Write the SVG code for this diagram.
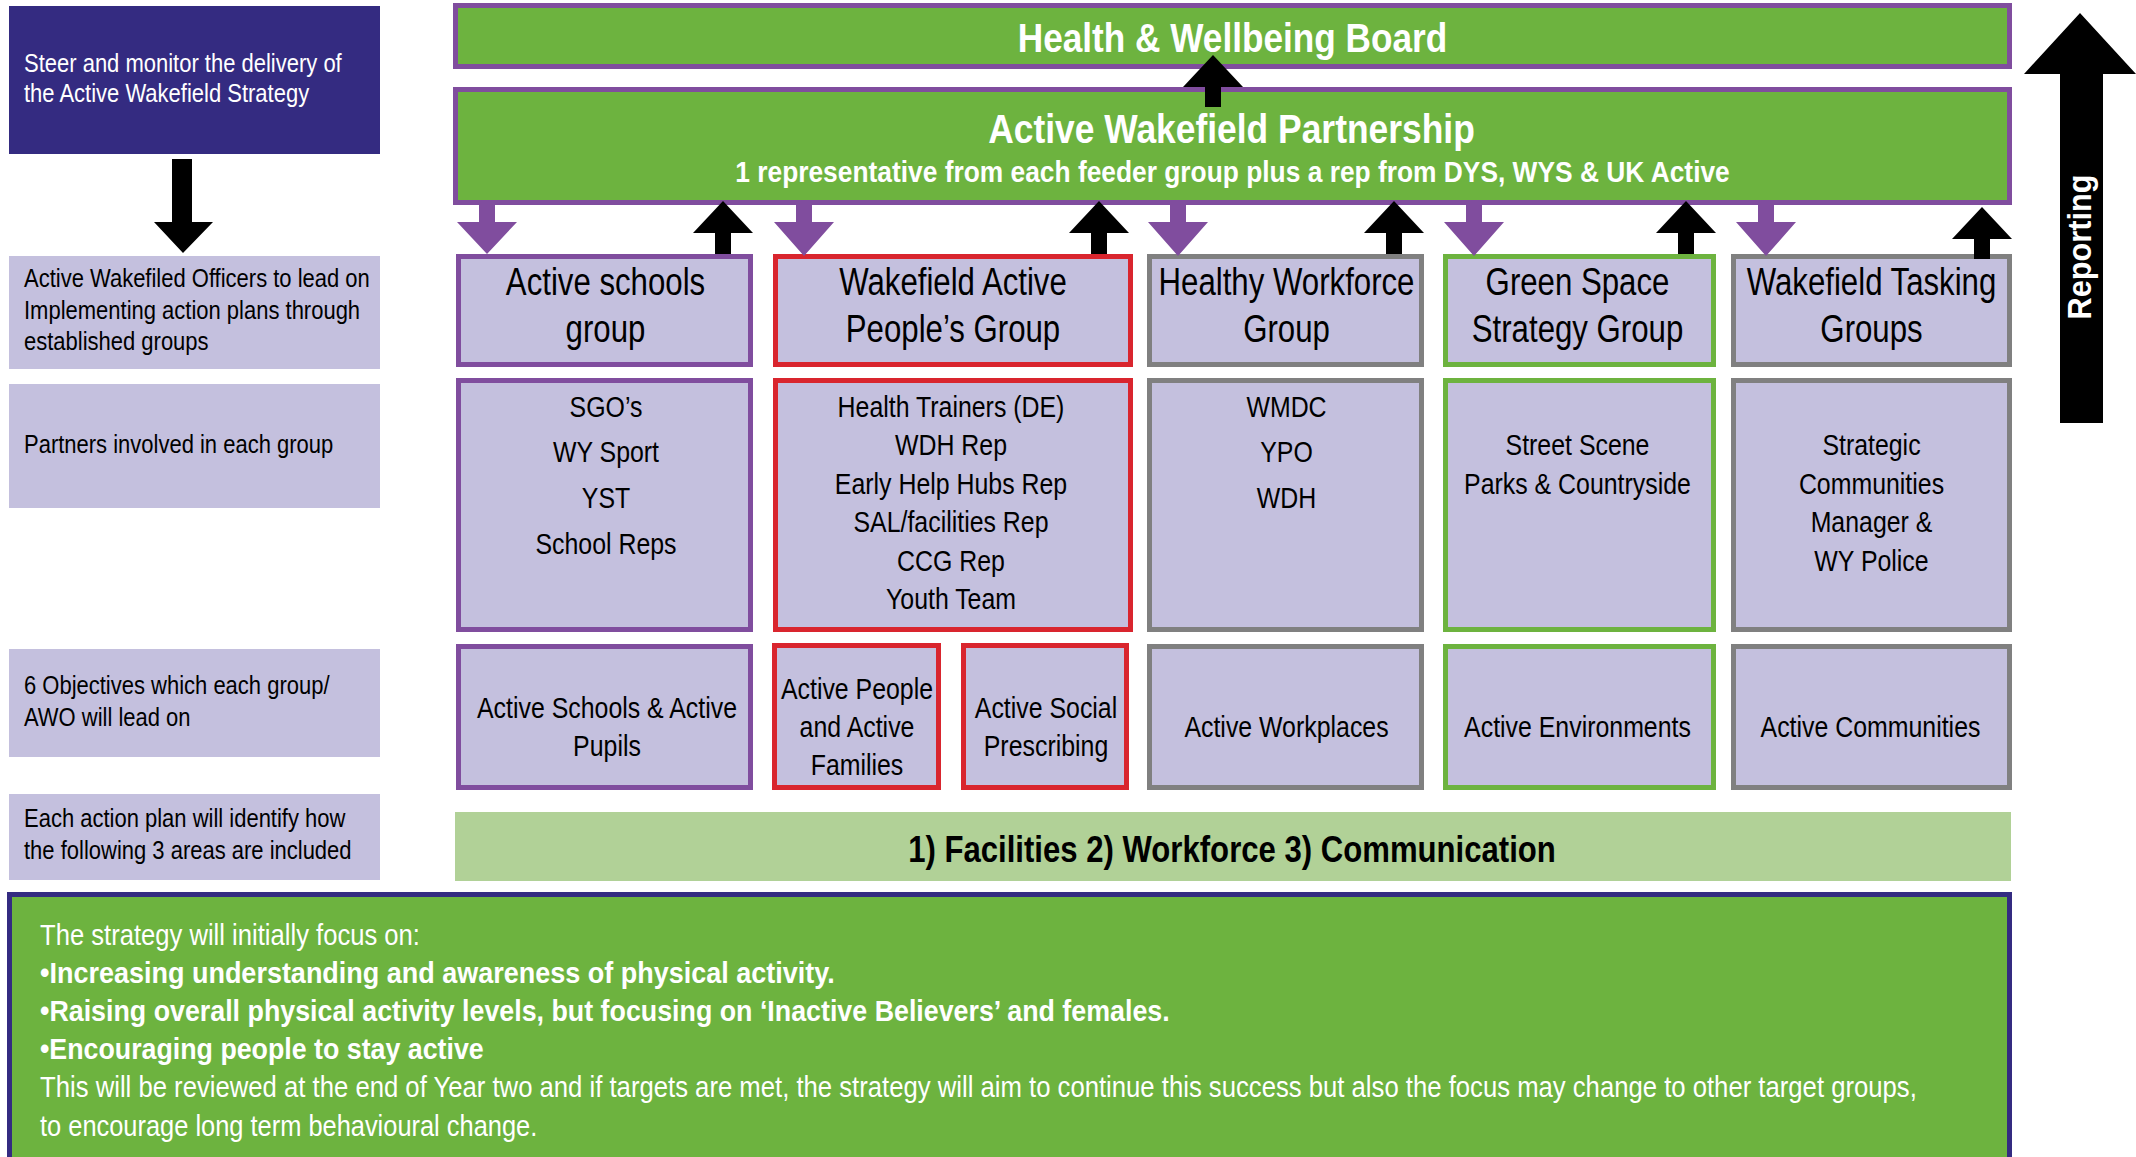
<svg xmlns="http://www.w3.org/2000/svg" width="2136" height="1157" viewBox="0 0 2136 1157">
<style>
text { font-family: "Liberation Sans", Arial, Helvetica, sans-serif; }
.lav { fill: #c4c0de; }
.bp { fill: #c4c0de; stroke: #804d9e; stroke-width: 5; }
.br { fill: #c4c0de; stroke: #d9252e; stroke-width: 5; }
.bg { fill: #c4c0de; stroke: #808080; stroke-width: 5; }
.bgr { fill: #c4c0de; stroke: #6db33f; stroke-width: 5; }
.top { fill: #6db33f; stroke: #804d9e; stroke-width: 5; }
.lt { font-size: 25px; fill: #000; }
.wh { fill: #fff; }
.hd { font-size: 39px; fill: #000; text-anchor: middle; }
.bd { font-size: 30px; fill: #000; text-anchor: middle; }
.ttl { font-size: 40px; font-weight: bold; fill: #fff; text-anchor: middle; }
.wt { font-size: 30px; fill: #fff; }
.wb { font-weight: bold; }
.pa { fill: #804d9e; }
.ka { fill: #000; }
</style>

<!-- Left column -->
<g id="left-steer">
<rect x="9" y="6" width="371" height="148" fill="#342b81"/>
<text class="lt wh" transform="translate(24 72) scale(0.88 1)">Steer and monitor the delivery of</text>
<text class="lt wh" transform="translate(24 102) scale(0.88 1)">the Active Wakefield Strategy</text>
</g>
<g id="left-officers">
<rect class="lav" x="9" y="256" width="371" height="113"/>
<text class="lt" transform="translate(24 287) scale(0.88 1)">Active Wakefiled Officers to lead on</text>
<text class="lt" transform="translate(24 319) scale(0.88 1)">Implementing action plans through</text>
<text class="lt" transform="translate(24 350) scale(0.88 1)">established groups</text>
</g>
<g id="left-partners">
<rect class="lav" x="9" y="384" width="371" height="124"/>
<text class="lt" transform="translate(24 453) scale(0.88 1)">Partners involved in each group</text>
</g>
<g id="left-objectives">
<rect class="lav" x="9" y="649" width="371" height="108"/>
<text class="lt" transform="translate(24 694) scale(0.88 1)">6 Objectives which each group/</text>
<text class="lt" transform="translate(24 726) scale(0.88 1)">AWO will lead on</text>
</g>
<g id="left-areas">
<rect class="lav" x="9" y="794" width="371" height="86"/>
<text class="lt" transform="translate(24 827) scale(0.88 1)">Each action plan will identify how</text>
<text class="lt" transform="translate(24 859) scale(0.88 1)">the following 3 areas are included</text>
</g>

<!-- Top boards -->
<g id="hwb">
<rect class="top" x="455.5" y="5.5" width="1554" height="61"/>
<text class="ttl" transform="translate(1232.5 52) scale(0.88 1)">Health &amp; Wellbeing Board</text>
</g>
<g id="awp">
<rect class="top" x="455.5" y="89.5" width="1554" height="113"/>
<text class="ttl" transform="translate(1231.5 143) scale(0.885 1)">Active Wakefield Partnership</text>
<text x="0" y="0" font-size="29" font-weight="bold" fill="#fff" text-anchor="middle" textLength="1105" lengthAdjust="spacingAndGlyphs" transform="translate(1232.5 182) scale(0.9 1)">1 representative from each feeder group plus a rep from DYS, WYS &amp; UK Active</text>
</g>

<!-- Group header row -->
<g id="g-schools">
<rect class="bp" x="458.5" y="256.5" width="292" height="108"/>
<text class="hd" transform="translate(605.5 295) scale(0.8 1)">Active schools</text>
<text class="hd" transform="translate(605.5 342) scale(0.8 1)">group</text>
</g>
<g id="g-people">
<rect class="br" x="775.5" y="256.5" width="355" height="108"/>
<text class="hd" transform="translate(953 295) scale(0.8 1)">Wakefield Active</text>
<text class="hd" transform="translate(953 342) scale(0.8 1)">People’s Group</text>
</g>
<g id="g-workforce">
<rect class="bg" x="1149.5" y="256.5" width="272" height="108"/>
<text class="hd" transform="translate(1286.5 295) scale(0.8 1)">Healthy Workforce</text>
<text class="hd" transform="translate(1286.5 342) scale(0.8 1)">Group</text>
</g>
<g id="g-greenspace">
<rect class="bgr" x="1445.5" y="256.5" width="268" height="108"/>
<text class="hd" transform="translate(1577.5 295) scale(0.8 1)">Green Space</text>
<text class="hd" transform="translate(1577.5 342) scale(0.8 1)">Strategy Group</text>
</g>
<g id="g-tasking">
<rect class="bg" x="1733.5" y="256.5" width="276" height="108"/>
<text class="hd" transform="translate(1871.5 295) scale(0.8 1)">Wakefield Tasking</text>
<text class="hd" transform="translate(1871.5 342) scale(0.8 1)">Groups</text>
</g>

<!-- Partners row -->
<g id="p-schools">
<rect class="bp" x="458.5" y="380.5" width="292" height="249"/>
<text class="bd" transform="translate(606 417) scale(0.83 1)">SGO’s</text>
<text class="bd" transform="translate(606 462) scale(0.83 1)">WY Sport</text>
<text class="bd" transform="translate(606 508) scale(0.83 1)">YST</text>
<text class="bd" transform="translate(606 554) scale(0.83 1)">School Reps</text>
</g>
<g id="p-people">
<rect class="br" x="775.5" y="380.5" width="355" height="249"/>
<text class="bd" transform="translate(951 417) scale(0.83 1)">Health Trainers (DE)</text>
<text class="bd" transform="translate(951 455) scale(0.83 1)">WDH Rep</text>
<text class="bd" transform="translate(951 494) scale(0.83 1)">Early Help Hubs Rep</text>
<text class="bd" transform="translate(951 532) scale(0.83 1)">SAL/facilities Rep</text>
<text class="bd" transform="translate(951 571) scale(0.83 1)">CCG Rep</text>
<text class="bd" transform="translate(951 609) scale(0.83 1)">Youth Team</text>
</g>
<g id="p-workforce">
<rect class="bg" x="1149.5" y="380.5" width="272" height="249"/>
<text class="bd" transform="translate(1286.5 417) scale(0.83 1)">WMDC</text>
<text class="bd" transform="translate(1286.5 462) scale(0.83 1)">YPO</text>
<text class="bd" transform="translate(1286.5 508) scale(0.83 1)">WDH</text>
</g>
<g id="p-greenspace">
<rect class="bgr" x="1445.5" y="380.5" width="268" height="249"/>
<text class="bd" transform="translate(1577.5 455) scale(0.83 1)">Street Scene</text>
<text class="bd" transform="translate(1577.5 494) scale(0.83 1)">Parks &amp; Countryside</text>
</g>
<g id="p-tasking">
<rect class="bg" x="1733.5" y="380.5" width="276" height="249"/>
<text class="bd" transform="translate(1871.5 455) scale(0.83 1)">Strategic</text>
<text class="bd" transform="translate(1871.5 494) scale(0.83 1)">Communities</text>
<text class="bd" transform="translate(1871.5 532) scale(0.83 1)">Manager &amp;</text>
<text class="bd" transform="translate(1871.5 571) scale(0.83 1)">WY Police</text>
</g>

<!-- Objectives row -->
<g id="o-schools">
<rect class="bp" x="458.5" y="646.5" width="292" height="141"/>
<text class="bd" transform="translate(607 718) scale(0.83 1)">Active Schools &amp; Active</text>
<text class="bd" transform="translate(607 756) scale(0.83 1)">Pupils</text>
</g>
<g id="o-people">
<rect class="br" x="774.5" y="645.5" width="164" height="142"/>
<text class="bd" transform="translate(857 699) scale(0.83 1)">Active People</text>
<text class="bd" transform="translate(857 737) scale(0.83 1)">and Active</text>
<text class="bd" transform="translate(857 775) scale(0.83 1)">Families</text>
</g>
<g id="o-social">
<rect class="br" x="963.5" y="645.5" width="163" height="142"/>
<text class="bd" transform="translate(1046 718) scale(0.83 1)">Active Social</text>
<text class="bd" transform="translate(1046 756) scale(0.83 1)">Prescribing</text>
</g>
<g id="o-workplaces">
<rect class="bg" x="1149.5" y="646.5" width="272" height="141"/>
<text class="bd" transform="translate(1286.5 737) scale(0.83 1)">Active Workplaces</text>
</g>
<g id="o-environments">
<rect class="bgr" x="1445.5" y="646.5" width="268" height="141"/>
<text class="bd" transform="translate(1577.5 737) scale(0.83 1)">Active Environments</text>
</g>
<g id="o-communities">
<rect class="bg" x="1733.5" y="646.5" width="276" height="141"/>
<text class="bd" transform="translate(1870.5 737) scale(0.83 1)">Active Communities</text>
</g>

<!-- Facilities bar -->
<g id="areas-bar">
<rect x="455" y="812" width="1556" height="69" fill="#b1d197"/>
<text x="0" y="0" font-size="37" font-weight="bold" fill="#000" text-anchor="middle" textLength="762" lengthAdjust="spacingAndGlyphs" transform="translate(1232 862) scale(0.85 1)">1) Facilities 2) Workforce 3) Communication</text>
</g>

<!-- Bottom focus box -->
<g id="focus">
<rect x="9.5" y="894.5" width="2000" height="272" fill="#6db33f" stroke="#342b81" stroke-width="5"/>
<text class="wt" x="0" y="0" textLength="447" lengthAdjust="spacingAndGlyphs" transform="translate(40 945) scale(0.85 1)">The strategy will initially focus on:</text>
<text class="wt wb" x="0" y="0" textLength="935" lengthAdjust="spacingAndGlyphs" transform="translate(40 983) scale(0.85 1)">•Increasing understanding and awareness of physical activity.</text>
<text class="wt wb" x="0" y="0" textLength="1329" lengthAdjust="spacingAndGlyphs" transform="translate(40 1021) scale(0.85 1)">•Raising overall physical activity levels, but focusing on ‘Inactive Believers’ and females.</text>
<text class="wt wb" x="0" y="0" textLength="522" lengthAdjust="spacingAndGlyphs" transform="translate(40 1059) scale(0.85 1)">•Encouraging people to stay active</text>
<text class="wt" x="0" y="0" textLength="2208" lengthAdjust="spacingAndGlyphs" transform="translate(40 1097) scale(0.85 1)">This will be reviewed at the end of Year two and if targets are met, the strategy will aim to continue this success but also the focus may change to other target groups,</text>
<text class="wt" x="0" y="0" textLength="585" lengthAdjust="spacingAndGlyphs" transform="translate(40 1136) scale(0.85 1)">to encourage long term behavioural change.</text>
</g>

<!-- Connectors -->
<g id="connectors">
<polygon class="ka" points="172,159 192,159 192,222 213,222 183,253 154,222 172,222"/>
<polygon class="ka" points="1213,55 1243,87 1221,87 1221,107 1205,107 1205,87 1183,87"/>
<polygon class="pa" points="479,203 495,203 495,222 517,222 487,254 457,222 479,222"/>
<polygon class="pa" points="796,203 812,203 812,222 834,222 804,256 774,222 796,222"/>
<polygon class="pa" points="1170,203 1186,203 1186,222 1208,222 1178,256 1148,222 1170,222"/>
<polygon class="pa" points="1466,203 1482,203 1482,222 1504,222 1474,256 1444,222 1466,222"/>
<polygon class="pa" points="1758,203 1774,203 1774,222 1796,222 1766,256 1736,222 1758,222"/>
<polygon class="ka" points="723,201 753,233 731,233 731,254 715,254 715,233 693,233"/>
<polygon class="ka" points="1099,201 1129,233 1107,233 1107,254 1091,254 1091,233 1069,233"/>
<polygon class="ka" points="1394,201 1424,233 1402,233 1402,254 1386,254 1386,233 1364,233"/>
<polygon class="ka" points="1686,201 1716,233 1694,233 1694,254 1678,254 1678,233 1656,233"/>
<polygon class="ka" points="1982,207 2012,239 1990,239 1990,259 1974,259 1974,239 1952,239"/>
</g>

<g id="reporting">
<polygon class="ka" points="2080,13 2136,74 2103,74 2103,423 2060,423 2060,74 2024,74"/>
<text x="0" y="0" font-size="34" font-weight="bold" fill="#fff" text-anchor="middle" textLength="145" lengthAdjust="spacingAndGlyphs" transform="translate(2091 247) rotate(-90)">Reporting</text>
</g>
</svg>
